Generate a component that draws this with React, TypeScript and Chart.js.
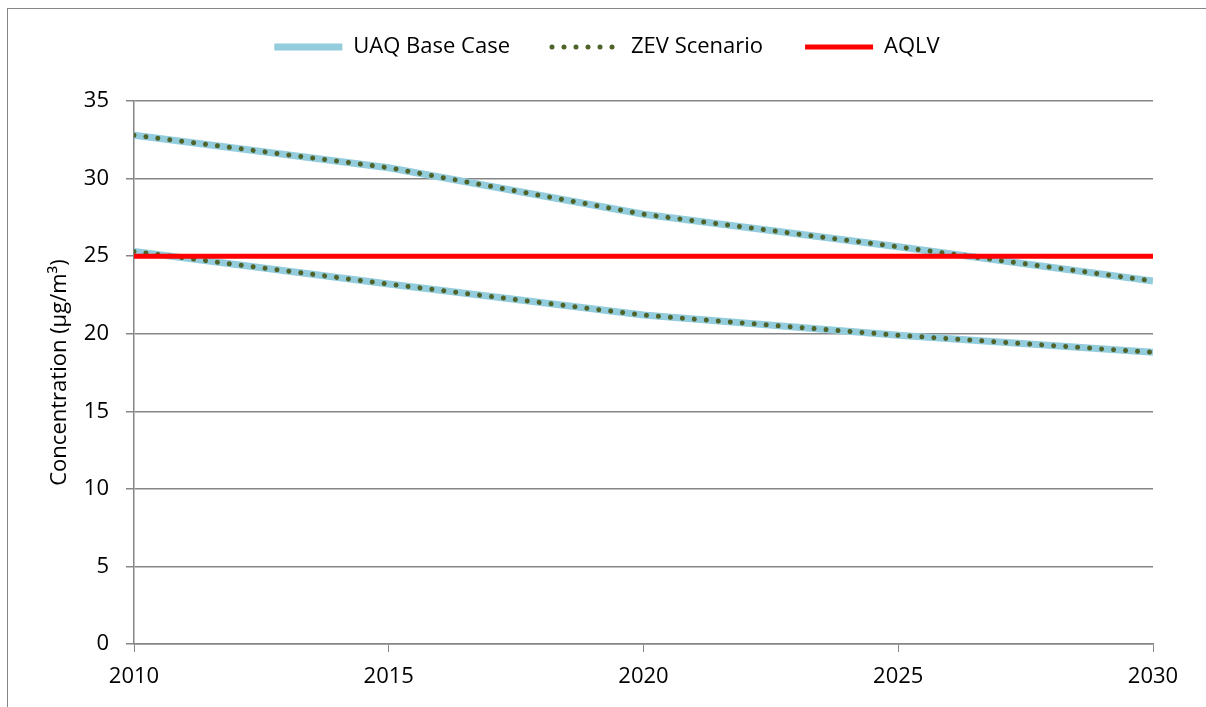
import React, { useEffect, useRef } from "react";
import { Chart, registerables } from "chart.js";

Chart.register(...registerables);

// ---- data ----
const years = [2010, 2015, 2020, 2025, 2030];
const baseUpper = [32.8, 30.7, 27.7, 25.6, 23.4];
const baseLower = [25.3, 23.2, 21.2, 19.9, 18.8];
const zevUpper = [32.8, 30.7, 27.7, 25.6, 23.4];
const zevLower = [25.3, 23.2, 21.2, 19.9, 18.8];
const aqlvYears = [2010, 2030];
const aqlvValues = [25, 25];
const seriesLabels = ["UAQ Base Case", "ZEV Scenario", "AQLV"];
const yAxisTitle = "Concentration (µg/m³)";

const BLUE = "#93CDDD";
const OLIVE = "#4F6228";
const RED = "#FF0000";
const GRID = "#868686";
const FONT = "'Open Sans', sans-serif";

const pts = (xs: number[], ys: number[]) => xs.map((x, i) => ({ x, y: ys[i] }));

// adds extra space below the legend without moving it
const legendGap = {
  id: "legendGap",
  beforeUpdate(chart: any) {
    const lg = chart.legend;
    if (lg && !lg.__patched) {
      const orig = lg.fit.bind(lg);
      lg.fit = function () {
        orig();
        this.height += 33;
      };
      lg.__patched = true;
    }
  },
};

export default function App() {
  const ref = useRef<HTMLCanvasElement | null>(null);

  useEffect(() => {
    if (!ref.current) return;
    const dotted = {
      borderColor: OLIVE,
      backgroundColor: OLIVE,
      borderWidth: 5,
      borderDash: [0.01, 12],
      borderCapStyle: "round" as const,
    };
    const solidBlue = {
      borderColor: BLUE,
      backgroundColor: BLUE,
      borderWidth: 7,
      borderCapStyle: "butt" as const,
    };
    const chart = new Chart(ref.current, {
      type: "line",
      data: {
        datasets: [
          {
            label: seriesLabels[2],
            data: pts(aqlvYears, aqlvValues),
            borderColor: RED,
            backgroundColor: RED,
            borderWidth: 5,
            borderCapStyle: "butt",
          },
          { label: seriesLabels[1], data: pts(years, zevUpper), ...dotted },
          { label: seriesLabels[1] + " ", data: pts(years, zevLower), ...dotted },
          { label: seriesLabels[0], data: pts(years, baseUpper), ...solidBlue },
          { label: seriesLabels[0] + " ", data: pts(years, baseLower), ...solidBlue },
        ] as any,
      },
      plugins: [legendGap],
      options: {
        animation: false,
        responsive: false,
        devicePixelRatio: 1,
        elements: { point: { radius: 0, hoverRadius: 0 }, line: { tension: 0 } },
        layout: { padding: { top: -15, left: 0, right: 0, bottom: 0 } },
        plugins: {
          tooltip: { enabled: false },
          legend: {
            position: "top",
            labels: {
              font: { family: FONT, size: 22 },
              color: "#000",
              usePointStyle: true,
              pointStyle: "line",
              pointStyleWidth: 68,
              padding: 42,
              generateLabels: (c: any) => {
                const items = (Chart as any).defaults.plugins.legend.labels.generateLabels(c);
                return items.map((it: any) => {
                  const ds: any = c.data.datasets[it.datasetIndex];
                  return {
                    ...it,
                    lineDash: ds.borderDash || [],
                    lineCap: ds.borderCapStyle || "butt",
                    lineWidth: ds.borderWidth,
                    strokeStyle: ds.borderColor,
                  };
                });
              },
              filter: (item: any) => seriesLabels.includes(item.text),
              sort: (a: any, b: any) =>
                seriesLabels.indexOf(a.text) - seriesLabels.indexOf(b.text),
            },
          },
        },
        scales: {
          x: {
            type: "linear",
            min: 2010,
            max: 2030,
            afterFit: (s: any) => {
              s.height = 63;
              s.paddingRight = 53;
            },
            ticks: {
              stepSize: 5,
              color: "#000",
              font: { family: FONT, size: 22 },
              padding: 12,
              maxRotation: 0,
              callback: (v: any) => String(v),
            },
            grid: {
              drawOnChartArea: false,
              color: GRID,
              tickLength: 8,
              lineWidth: 1,
            },
            border: { color: GRID, width: 1.5 },
          },
          y: {
            min: 0,
            max: 35,
            afterFit: (s: any) => {
              s.width = 126;
            },
            ticks: {
              stepSize: 5,
              color: "#000",
              font: { family: FONT, size: 22 },
              padding: 17,
            },
            grid: { color: GRID, tickLength: 8, lineWidth: 1.5 },
            border: { color: GRID, width: 1.5 },
            title: {
              display: true,
              text: yAxisTitle,
              color: "#000",
              font: { family: FONT, size: 22 },
              padding: { top: 39, bottom: 0 },
            },
          },
        },
      },
    });
    return () => chart.destroy();
  }, []);

  return (
    <div
      style={{
        position: "fixed",
        left: 7,
        top: 8,
        width: 1220,
        height: 720,
        border: "1px solid #868686",
        background: "#fff",
        overflow: "hidden",
      }}
    >
      <canvas ref={ref} width={1198} height={698} style={{ display: "block" }} />
    </div>
  );
}
